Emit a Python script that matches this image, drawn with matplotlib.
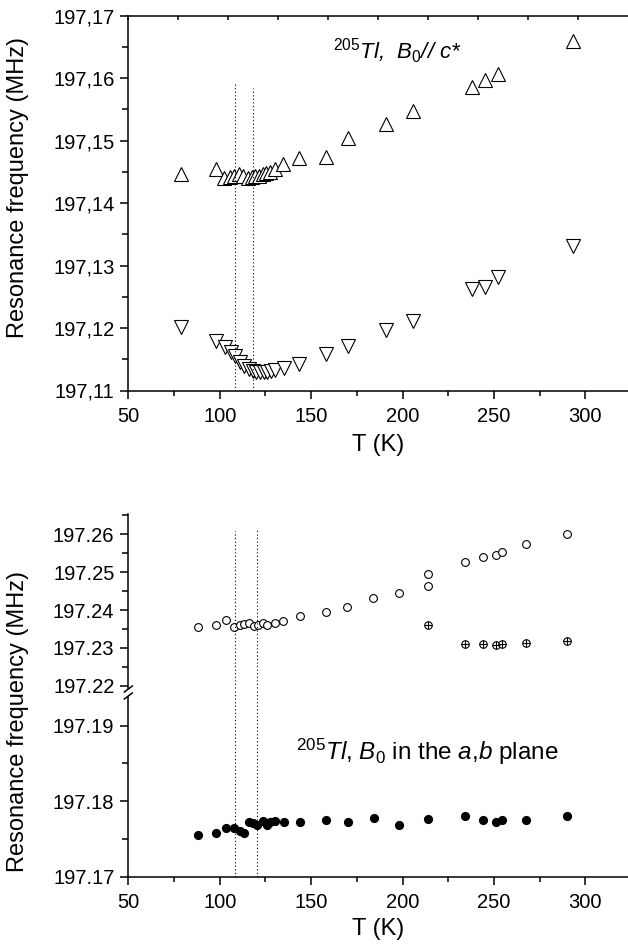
import matplotlib
matplotlib.use("Agg")
import matplotlib.pyplot as plt
from matplotlib.ticker import MultipleLocator, FuncFormatter, FixedLocator

plt.rcParams['font.family'] = ['Liberation Sans', 'DejaVu Sans']
plt.rcParams['mathtext.fontset'] = 'custom'
plt.rcParams['mathtext.rm'] = 'Liberation Sans'
plt.rcParams['mathtext.it'] = 'Liberation Sans:italic'
plt.rcParams['mathtext.bf'] = 'Liberation Sans:bold'

# ---------------- data: top panel (B0 // c*) ----------------
T_up = [79, 98, 102.5, 105.5, 108, 110.5, 113, 115.5, 117.5, 119.5, 121.5, 123.5,
        125.5, 127.5, 130, 134.5, 143.5, 158, 170, 191, 206, 238, 245, 252, 293]
f_up = [197.1447, 197.1455, 197.1440, 197.1441, 197.1443, 197.1446, 197.1443, 197.1440,
        197.1441, 197.1443, 197.1444, 197.1446, 197.1448, 197.1450, 197.1455, 197.1463,
        197.1472, 197.1474, 197.1505, 197.1527, 197.1548, 197.1586, 197.1597, 197.1607,
        197.1660]
T_dn = [79, 98, 103, 106, 108.5, 111, 113.5, 116, 118, 120, 122, 124, 126, 128, 130,
        135, 143.5, 158, 170, 191, 206, 238, 245, 252, 293]
f_dn = [197.1202, 197.1180, 197.1170, 197.1162, 197.1155, 197.1146, 197.1140, 197.1135,
        197.1132, 197.1130, 197.1130, 197.1130, 197.1130, 197.1131, 197.1133, 197.1136,
        197.1142, 197.1158, 197.1172, 197.1197, 197.1212, 197.1263, 197.1266, 197.1281,
        197.1332]
T_lines_top = [108.5, 118.2]
f_lines_top_end = [197.1591, 197.1584]

# ---------------- data: bottom panel (B0 in a,b plane) ----------------
T_open = [88, 98, 103.3, 108, 111.1, 113.5, 116.2, 118.8, 121.1, 123.9, 126, 130.2, 134.8,
          143.9, 158, 169.8, 184, 198, 214.1, 214.1, 234.2, 244.2, 251.2, 254.3, 267.4, 290.2]
f_open = [197.2356, 197.2361, 197.2373, 197.2355, 197.2360, 197.2363, 197.2365, 197.2358,
          197.2360, 197.2367, 197.2360, 197.2366, 197.2372, 197.2383, 197.2395, 197.2409,
          197.2433, 197.2444, 197.2464, 197.2495, 197.2528, 197.2539, 197.2545, 197.2552,
          197.2574, 197.2601]
T_cross = [214.1, 234.2, 244.2, 251.2, 254.3, 267.4, 290.2]
f_cross = [197.2361, 197.2311, 197.2311, 197.2307, 197.2311, 197.2314, 197.2317]
T_fill = [88, 98, 103.3, 107.8, 111.1, 113.4, 116, 118.4, 120.6, 123.5, 126, 127.5, 130.2,
          135.1, 143.9, 158, 170, 184.2, 198, 214.1, 234, 244, 251.2, 254.3, 267.3, 290.2]
f_fill = [197.1755, 197.1758, 197.1764, 197.1765, 197.1760, 197.1758, 197.1773, 197.1771,
          197.1768, 197.1774, 197.1769, 197.1772, 197.1774, 197.1772, 197.1772, 197.1775,
          197.1772, 197.1778, 197.1769, 197.1776, 197.1780, 197.1775, 197.1773, 197.1775,
          197.1775, 197.1781]
T_lines_bot = [108.5, 120.2]
f_lines_bot_end = [197.2608, 197.2611]

x_ticks = [50, 100, 150, 200, 250, 300]

# ---------------- layout ----------------
W, H = 628, 949
fig = plt.figure(figsize=(W / 100, H / 100), dpi=100)


def rect(l, t, r, b):
    return [l / W, 1 - b / H, (r - l) / W, (b - t) / H]


XMAX = 50 + (628 - 128.3) / 1.828
LW = 1.1
TFS = 14.5
LFS = 17
comma_fmt = FuncFormatter(lambda v, p: f"{v:.2f}".replace('.', ','))
dot_fmt = FuncFormatter(lambda v, p: f"{v:.2f}")


def style_y(ax):
    ax.tick_params(axis='y', which='major', direction='out', length=6, width=LW,
                   labelsize=TFS, pad=4)
    ax.tick_params(axis='y', which='minor', direction='out', length=4.5, width=LW)


def style_x(ax):
    ax.xaxis.set_major_locator(FixedLocator(x_ticks))
    ax.xaxis.set_minor_locator(MultipleLocator(25))
    ax.tick_params(axis='x', which='major', direction='out', length=6, width=LW,
                   labelsize=TFS, pad=6)
    ax.tick_params(axis='x', which='minor', direction='out', length=3.5, width=LW)


# ---------------- top panel ----------------
ax1 = fig.add_axes(rect(128.3, 15.7, 628, 390.5))
ax1.set_xlim(50, XMAX)
ax1.set_ylim(197.11, 197.17)
for s in ['left', 'bottom', 'top']:
    ax1.spines[s].set_linewidth(LW)
ax1.spines['right'].set_visible(False)
ax1.yaxis.set_major_locator(MultipleLocator(0.01))
ax1.yaxis.set_minor_locator(MultipleLocator(0.005))
ax1.yaxis.set_major_formatter(comma_fmt)
style_y(ax1)
style_x(ax1)
ax1.tick_params(axis='y', right=False, which='both')
ax1.tick_params(axis='x', top=False, which='both')
ax1.set_xlabel('T (K)', fontsize=LFS, labelpad=6)

mk = dict(ls='none', mfc='white', mec='black', mew=0.8)
ax1.plot(T_up, f_up, marker='^', ms=10, **mk)
ax1.plot(T_dn, f_dn, marker='v', ms=10, **mk)
for t, fe in zip(T_lines_top, f_lines_top_end):
    ax1.plot([t, t], [197.11, fe], ls=(0, (1, 2.2)), color='black', lw=0.8)

# top axis ticks (independent scale as in the original)
axt = ax1.twiny()
axt.set_xlim(0, (628 - 128.3) / 50)
axt.xaxis.set_major_locator(MultipleLocator(1))
axt.tick_params(axis='x', which='major', direction='in', length=3, width=LW,
                labeltop=False, top=True)
axt.yaxis.set_visible(False)
for s in ['left', 'bottom', 'right', 'top']:
    axt.spines[s].set_visible(False)

ax1.text(0.41, 0.905, r"$^{205}Tl$,  $B_0$// $c$*", transform=ax1.transAxes,
         fontsize=16, fontstyle='italic', ha='left', va='center')

fig.text(18 / W, 1 - 187 / H, 'Resonance frequency (MHz)', rotation=90,
         fontsize=LFS, ha='center', va='center')

# ---------------- bottom panel: upper segment ----------------
ax2 = fig.add_axes(rect(128.3, 513.5, 628, 688))
ax2.set_xlim(50, XMAX)
ax2.set_ylim(197.2194, 197.2655)
for s in ['top', 'right', 'bottom']:
    ax2.spines[s].set_visible(False)
ax2.spines['left'].set_linewidth(LW)
ax2.yaxis.set_major_locator(FixedLocator([197.22, 197.23, 197.24, 197.25, 197.26]))
ax2.yaxis.set_minor_locator(FixedLocator([197.225, 197.235, 197.245, 197.255, 197.265]))
ax2.yaxis.set_major_formatter(dot_fmt)
style_y(ax2)
ax2.tick_params(axis='x', which='both', bottom=False, labelbottom=False)
ax2.plot(T_open, f_open, marker='o', ms=5.6, **mk)
ax2.plot(T_cross, f_cross, marker='o', ms=5.4, **mk)
ax2.plot(T_cross, f_cross, marker='+', ms=5.4, ls='none', color='black', mew=0.8)
for t, fe in zip(T_lines_bot, f_lines_bot_end):
    ax2.plot([t, t], [197.2194, fe], ls=(0, (1, 2.2)), color='black', lw=0.8)

# ---------------- bottom panel: lower segment ----------------
ax3 = fig.add_axes(rect(128.3, 697, 628, 876.7))
ax3.set_xlim(50, XMAX)
ax3.set_ylim(197.17, 197.17 + (876.7 - 697) / 7550)
for s in ['top', 'right']:
    ax3.spines[s].set_visible(False)
for s in ['left', 'bottom']:
    ax3.spines[s].set_linewidth(LW)
ax3.yaxis.set_major_locator(FixedLocator([197.17, 197.18, 197.19]))
ax3.yaxis.set_minor_locator(FixedLocator([197.175, 197.185]))
ax3.yaxis.set_major_formatter(dot_fmt)
style_y(ax3)
style_x(ax3)
ax3.set_xlabel('T (K)', fontsize=LFS, labelpad=4)
ax3.plot(T_fill, f_fill, marker='o', ms=5.6, ls='none', mfc='black', mec='black')
ytop3 = 197.17 + (876.7 - 688) / 7550
for t in T_lines_bot:
    ax3.plot([t, t], [197.17, ytop3], ls=(0, (1, 2.2)), color='black', lw=0.8,
             clip_on=False)

ax3.text(0.335, 0.695, r"$^{205}Tl$, $B_0$ in the $a$,$b$ plane",
         transform=ax3.transAxes, fontsize=17.5, ha='left', va='center')

fig.text(18 / W, 1 - 722 / H, 'Resonance frequency (MHz)', rotation=90,
         fontsize=LFS, ha='center', va='center')

# break marks on the left spine
x0 = 128.3
for yb in (689, 696):
    fig.add_artist(plt.Line2D([(x0 - 4) / W, (x0 + 4) / W],
                              [1 - (yb + 3) / H, 1 - (yb - 3) / H],
                              color='black', lw=LW))

fig.savefig('out.png', dpi=100)
